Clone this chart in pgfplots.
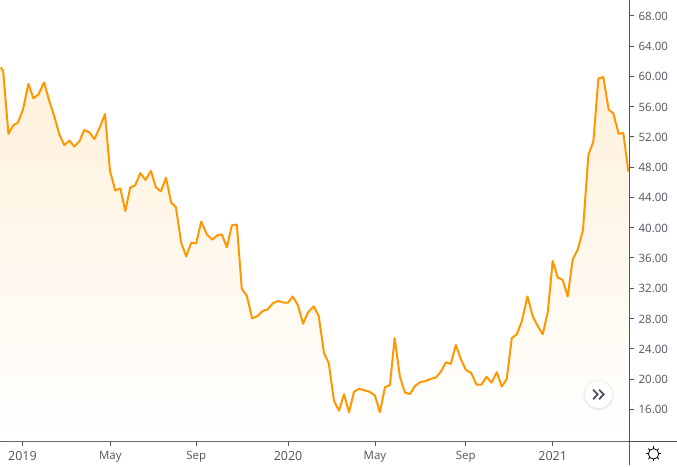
\documentclass[border=0pt]{standalone}
\usepackage{fontspec}
\setmainfont{Open Sans}
\usepackage{pgfplots}
\pgfplotsset{compat=1.18}
\definecolor{lin}{RGB}{255,152,0}
\definecolor{axc}{RGB}{80,83,94}
\pgfplotstableread{
x y
0 61.2
2.7 60.7
8 52.4
12.7 53.5
17.7 53.9
22.7 55.7
28 59.0
33 57.1
38 57.6
43.7 59.2
48.7 56.8
53.7 54.8
59 52.3
64 50.9
69 51.5
74 50.7
79 51.4
84 52.9
89 52.6
94 51.7
99.3 53.2
104.7 55.0
109.7 47.5
115 44.9
120 45.2
125 42.2
130 45.3
135 45.6
140 47.2
145.3 46.3
150.7 47.5
155.7 45.3
160.7 44.8
165.7 46.6
171 43.3
175.7 42.7
181 38.0
186 36.2
191 38.0
196 37.9
201 40.8
206.7 39.1
212 38.4
217.3 39.0
221.7 39.1
226.7 37.4
231.7 40.3
236.7 40.4
241.7 31.9
246.7 31.0
252 28.0
257.3 28.3
262.7 29.0
267.7 29.2
272.7 30.0
278 30.3
283 30.1
288 30.1
292.7 30.9
298 29.7
303 27.3
308 28.8
313.7 29.6
318.7 28.3
324 23.4
328.7 22.1
334 17.1
339 15.8
344 18.0
349 15.6
354 18.3
359 18.7
364.3 18.5
369.7 18.3
375 17.8
380 15.6
385 18.9
390 19.2
394.7 25.4
400 20.3
405 18.2
410 18.0
415.3 19.1
420.7 19.6
425.3 19.7
430.7 20.0
436 20.2
440.7 20.9
446 22.2
451 22.0
456 24.5
461 22.6
466 21.2
471.3 20.8
476.7 19.25
481.7 19.25
486.7 20.3
491.7 19.5
497 20.9
502 19.0
507 20.0
512 25.4
517 25.9
522 27.6
527.7 30.9
533 28.3
538 27.0
543 25.9
548 28.8
553 35.6
558 33.4
563 33.1
568 30.9
573 35.8
578.3 37.2
583.3 39.7
588.7 49.6
593.7 51.4
598.7 59.7
603.7 59.9
609 55.6
613.7 55.1
619 52.4
623.7 52.5
628.7 47.4
}\pricetable
\begin{document}
\begin{tikzpicture}[x=1pt,y=1pt]
\path (0,-23.7) rectangle (677,441.3);
\begin{axis}[
 at={(0pt,0pt)},anchor=south west,
 scale only axis,width=629.5pt,height=441.3pt,
 xmin=0,xmax=629.5,ymin=11.78,ymax=70.02,
 axis y line*=right,axis x line*=bottom,
 axis line style={axc,line width=0.9pt,-},
 xtick={22,110,196,288,375,466,553},
 xticklabels={{\fontsize{12.5}{13}\selectfont 2019},May,Sep,{\fontsize{12.5}{13}\selectfont 2020},May,Sep,{\fontsize{12.5}{13}\selectfont 2021}},
 ytick={16,20,...,68},
 yticklabel={\pgfmathprintnumber[fixed,fixed zerofill,precision=2]{\tick}},
 /pgf/number format/assume math mode=true,
 tick style={axc,line width=0.9pt},
 tick align=outside,
 major tick length=4.5pt,
 ticklabel style={font=\fontsize{11.5}{13}\selectfont,text=axc},
 x tick label style={yshift=-2.5pt},
 y tick label style={xshift=1.5pt,yshift=-0.5pt},
 clip=true,
]
\addplot[draw=none,shade,top color=lin!14,middle color=lin!5.5,bottom color=white,shading angle=0] table {\pricetable} \closedcycle;
\addplot[lin,line width=2pt,line join=round] table {\pricetable};
\end{axis}
% axis lines continue beyond the plot
\draw[axc,line width=0.9pt] (629.5,0) -- (629.5,-23.7);
\draw[axc,line width=0.9pt] (629.5,0) -- (677,0);
% scroll button
\fill[black,opacity=0.04] (599,45.8) circle (15.5);
\fill[black,opacity=0.05] (599,46.3) circle (14.5);
\fill[white] (599,46.8) circle (13.8);
\draw[axc,line width=1.8pt] (593.5,51.5) -- (598,46.8) -- (593.5,42);
\draw[axc,line width=1.8pt] (599.5,51.5) -- (604,46.8) -- (599.5,42);
% settings icon
\draw[black,line width=0.8pt] (654,-12.7) circle (5.2);
\foreach \a in {0,45,...,315}{\draw[black,line width=0.8pt] (654,-12.7)++(\a:5.2) -- ++(\a:2.2);}
\end{tikzpicture}
\end{document}
